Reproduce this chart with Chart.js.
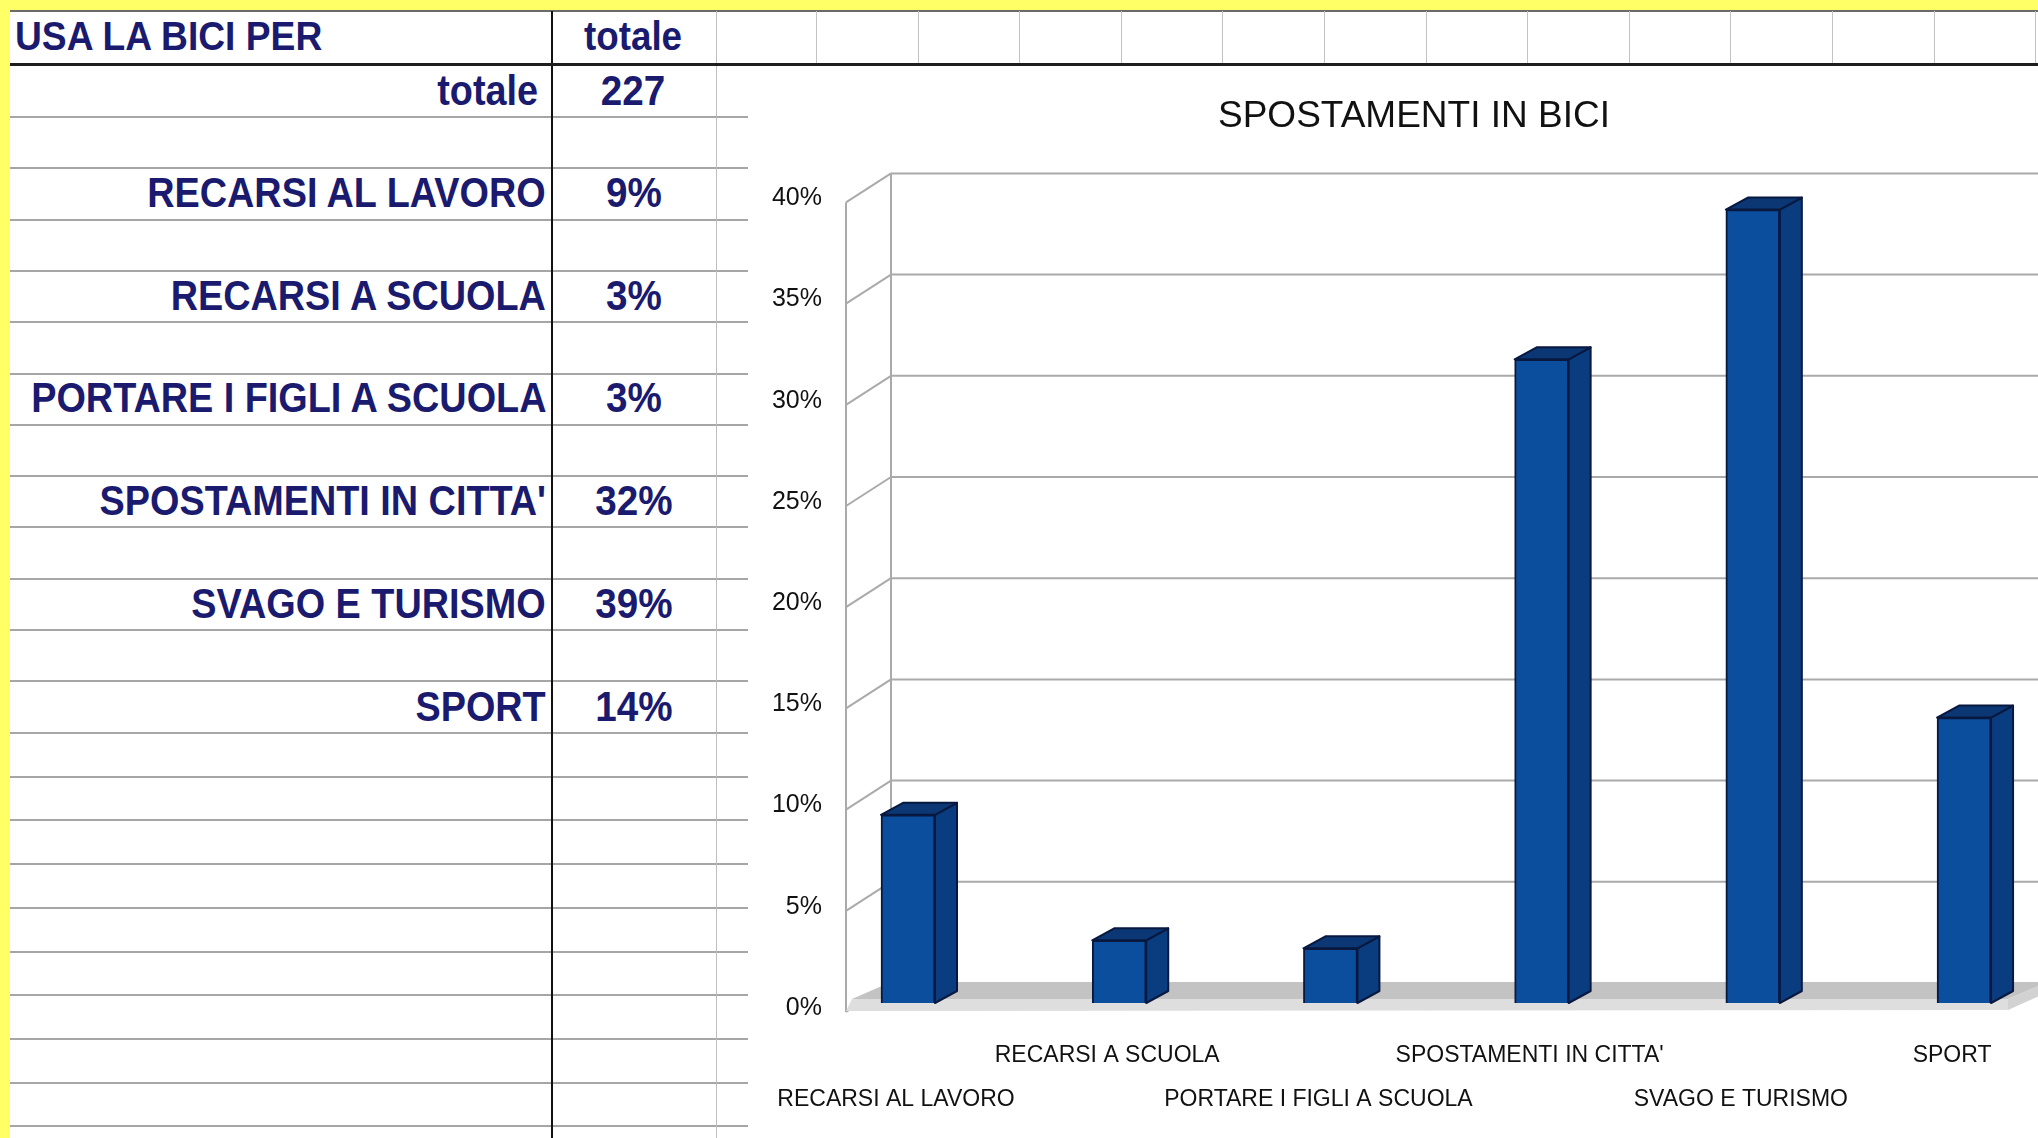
<!DOCTYPE html>
<html>
<head>
<meta charset="utf-8">
<title>Spostamenti in bici</title>
<script src="https://cdn.jsdelivr.net/npm/chart.js@4/dist/chart.umd.min.js"></script>
<style>
  html, body { margin: 0; padding: 0; }
  body { width: 2038px; height: 1138px; overflow: hidden; background: #fff; position: relative;
         font-family: "Liberation Sans", Arial, sans-serif; }
  .yel { position: absolute; background: #ffff66; z-index: 5; }
  .ln { position: absolute; }
  .cell { position: absolute; height: 50px; line-height: 50px; font-weight: bold; color: #1a1a6e; white-space: nowrap; }
  #wrap { position: absolute; left: 748px; top: 66px; width: 1332px; height: 1072px; background: #fff; }
</style>
</head>
<body>
<div id="wrap"><canvas id="chart" width="1332" height="1072"></canvas></div>
<script>
// data
var categories = ["RECARSI AL LAVORO", "RECARSI A SCUOLA", "PORTARE I FIGLI A SCUOLA", "SPOSTAMENTI IN CITTA'", "SVAGO E TURISMO", "SPORT"];
var shares = [0.093, 0.031, 0.027, 0.318, 0.392, 0.141];
var total = 227;
var yTickValues = [0, 0.05, 0.10, 0.15, 0.20, 0.25, 0.30, 0.35, 0.40];
var yTickLabels = ["0%", "5%", "10%", "15%", "20%", "25%", "30%", "35%", "40%"];

// spreadsheet part (left table)
function el(cls, css, txt) {
  var d = document.createElement('div');
  d.className = cls;
  Object.assign(d.style, css);
  if (txt != null) d.textContent = txt;
  document.body.insertBefore(d, document.getElementById('wrap'));
  return d;
}

// row lines
for (var i = 0; i < 13; i++) {
  el('ln', {left: '9px', width: '739px', top: (117 + i * 51.3 - 1) + 'px', height: '2px', background: '#a6a6a6'});
}
for (var j = 1; j <= 9; j++) {
  el('ln', {left: '9px', width: '739px', top: (733 + j * 43.7 - 1) + 'px', height: '2px', background: '#a6a6a6'});
}
// header row
el('ln', {left: '9px', width: '2029px', top: '10px', height: '2px', background: '#6a6a6a'});
for (var k = 0; k < 13; k++) {
  el('ln', {left: (816 + k * 101.6) + 'px', top: '11px', width: '1px', height: '52px', background: '#c2c2c2'});
}
el('ln', {left: '716px', top: '11px', width: '1px', height: '1127px', background: '#bdbdbd'});
el('ln', {left: '551px', top: '11px', width: '2px', height: '1127px', background: '#111'});
el('ln', {left: '9px', width: '2029px', top: '63px', height: '3px', background: '#1e1e1e'});

// yellow frame
el('yel', {left: '0px', top: '0px', width: '2038px', height: '10px'});
el('yel', {left: '0px', top: '0px', width: '10px', height: '1138px'});

function rightText(txt, right, cy, size, sx) {
  el('cell', {right: (2038 - right) + 'px', top: (cy - 25) + 'px', fontSize: size + 'px',
    transform: 'scaleX(' + sx + ')', transformOrigin: '100% 50%'}, txt);
}
function centerText(txt, cx, cy, size, sx) {
  el('cell', {left: (cx - 100) + 'px', width: '200px', top: (cy - 25) + 'px', fontSize: size + 'px', textAlign: 'center',
    transform: 'scaleX(' + sx + ')', transformOrigin: '50% 50%'}, txt);
}

el('cell', {left: '15px', top: '11px', fontSize: '40px', transform: 'scaleX(0.93)', transformOrigin: '0 50%'}, 'USA LA BICI PER');
centerText('totale', 633, 36, 40, 0.92);
rightText('totale', 538, 91, 42, 0.9);
centerText(String(total), 633, 91, 42, 0.92);
categories.forEach(function(c, i) {
  var cy = 193 + i * 102.7;
  rightText(c, 546, cy, 42, 0.9);
  centerText(Math.round(shares[i] * 100) + '%', 634, cy, 42, 0.92);
});

// chart with a drawn depth (floor, back wall, bar sides)
function poly(ctx, pts, fill) {
  ctx.beginPath();
  ctx.moveTo(pts[0][0], pts[0][1]);
  for (var i = 1; i < pts.length; i++) ctx.lineTo(pts[i][0], pts[i][1]);
  ctx.closePath();
  ctx.fillStyle = fill;
  ctx.fill();
}
function seg(ctx, x1, y1, x2, y2) {
  ctx.beginPath(); ctx.moveTo(x1, y1); ctx.lineTo(x2, y2); ctx.stroke();
}

var depth = {
  id: 'depth',
  beforeDatasetsDraw: function(chart) {
    var ctx = chart.ctx, a = chart.chartArea, ys = chart.scales.y, W = chart.width;
    var y0 = ys.getPixelForValue(0), yTop = ys.getPixelForValue(0.40);
    var fr = 1260; // right end of the floor, inside the window
    ctx.save();
    ctx.strokeStyle = '#aaaaaa';
    ctx.lineWidth = 2;
    yTickValues.forEach(function(v) {
      var py = ys.getPixelForValue(v);
      seg(ctx, a.left + 45, py - 20, W, py - 20);
      seg(ctx, a.left, py + 9, a.left + 45, py - 20);
    });
    seg(ctx, a.left + 45, yTop - 20, a.left + 45, y0 - 20);
    seg(ctx, a.left, yTop + 9, a.left, y0 + 9);
    // floor
    poly(ctx, [[a.left + 45, y0 - 21], [fr + 40, y0 - 21], [fr, y0 - 4], [a.left + 6, y0 - 4]], '#c3c3c3');
    poly(ctx, [[a.left + 6, y0 - 4], [fr, y0 - 4], [fr, y0 + 7], [a.left, y0 + 8]], '#dedede');
    poly(ctx, [[fr, y0 - 4], [fr + 40, y0 - 21], [fr + 40, y0 - 11], [fr, y0 + 7]], '#d2d2d2');
    ctx.restore();
  },
  afterDatasetsDraw: function(chart) {
    var ctx = chart.ctx;
    ctx.save();
    ctx.strokeStyle = '#08183f';
    ctx.lineWidth = 2;
    ctx.lineJoin = 'round';
    chart.getDatasetMeta(0).data.forEach(function(bar) {
      var p = bar.getProps(['x', 'y', 'base', 'width'], true);
      var l = p.x - p.width / 2, r = p.x + p.width / 2, t = p.y, b = p.base;
      var side = [[r, t], [r + 22, t - 12], [r + 22, b - 12], [r, b]];
      var top = [[l, t], [l + 22, t - 12], [r + 22, t - 12], [r, t]];
      poly(ctx, side, '#093d80'); ctx.stroke();
      poly(ctx, top, '#0b3775'); ctx.stroke();
    });
    ctx.restore();
  }
};

Chart.defaults.font.family = "'Liberation Sans', Arial, sans-serif";
Chart.defaults.color = '#111';

new Chart(document.getElementById('chart'), {
  type: 'bar',
  data: {
    datasets: [{
      data: categories.map(function(c, i) { return {x: i, y: shares[i]}; }),
      backgroundColor: '#0b4e9e',
      borderColor: '#08183f',
      borderWidth: 2,
      barThickness: 54
    }]
  },
  options: {
    responsive: false,
    animation: false,
    layout: {padding: 0},
    plugins: {
      legend: {display: false},
      tooltip: {enabled: false},
      title: {
        display: true,
        text: 'SPOSTAMENTI IN BICI',
        color: '#111',
        font: {size: 37, weight: 'normal', lineHeight: 1.2},
        padding: {top: 29, bottom: 54}
      }
    },
    scales: {
      x: {
        type: 'linear',
        offset: false,
        min: -0.2936,
        max: 5.549,
        grid: {display: false, drawTicks: false, offset: false},
        border: {display: false},
        afterBuildTicks: function(s) { s.ticks = categories.map(function(c, i) { return {value: i}; }); },
        afterFit: function(s) { s.height = 135; },
        ticks: {
          autoSkip: false, maxRotation: 0, minRotation: 0,
          padding: 31, labelOffset: -12,
          font: {size: 23, lineHeight: 1.913},
          callback: function(v) { return v % 2 ? [categories[v], ''] : ['', categories[v]]; }
        }
      },
      y: {
        min: 0,
        max: 0.40,
        grid: {display: false, drawTicks: false},
        border: {display: false},
        afterBuildTicks: function(s) { s.ticks = yTickValues.map(function(v) { return {value: v}; }); },
        afterFit: function(s) { s.width = 98; },
        ticks: {
          padding: 24, labelOffset: 5,
          font: {size: 25},
          callback: function(v, i) { return yTickLabels[i]; }
        }
      }
    }
  },
  plugins: [depth]
});
</script>
</body>
</html>
